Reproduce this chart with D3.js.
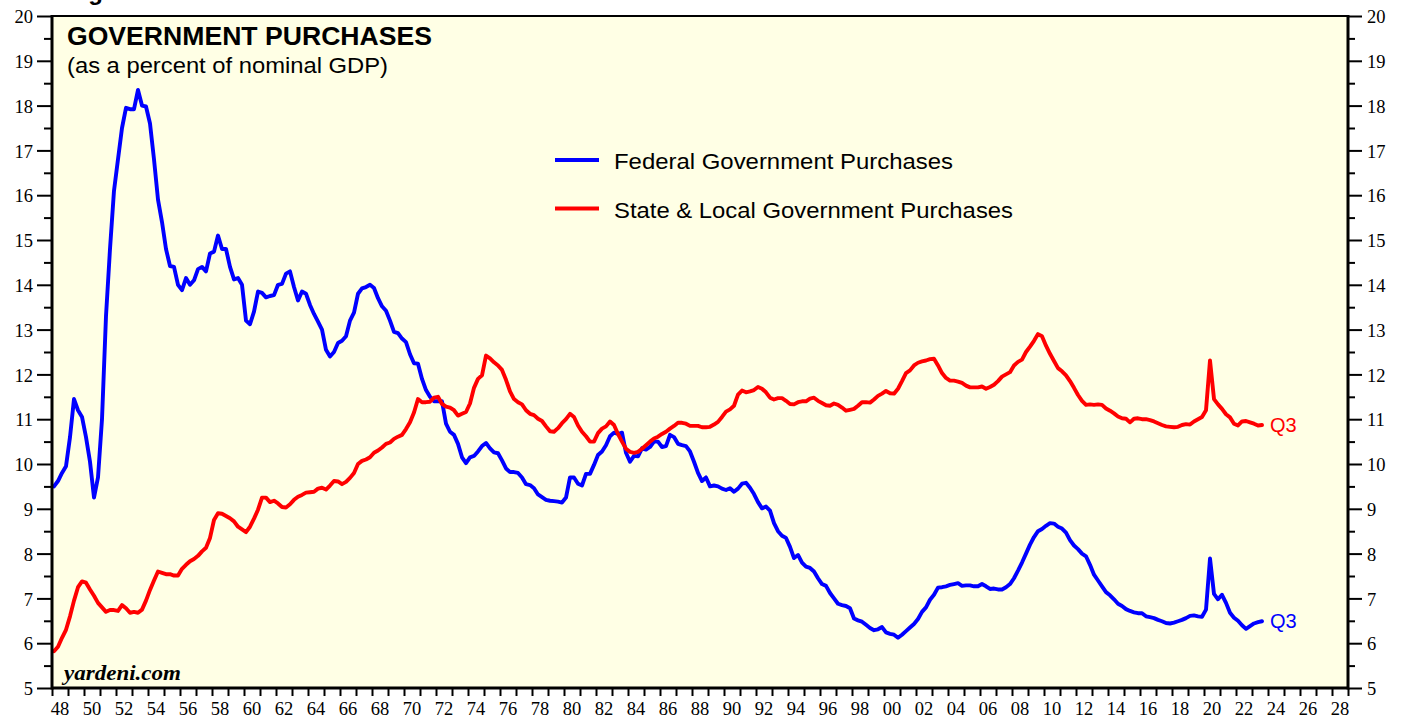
<!DOCTYPE html>
<html>
<head>
<meta charset="utf-8">
<script src="https://cdn.jsdelivr.net/npm/d3@7"></script>
<style>
  body { margin:0; background:#ffffff; }
  svg { display:block; }
</style>
</head>
<body>
<svg></svg>
<script>

//quarterly values, first point is 1948 Q1, last is 2023 Q3
var firstYear = 1948;

var fedValues = [
  9.50, 9.62, 9.80, 9.95,      //48
  10.60, 11.45, 11.20, 11.05,  //49
  10.60, 10.05, 9.25, 9.70,    //50
  11.00, 13.30, 14.80, 16.10,  //51
  16.80, 17.50, 17.95, 17.92,  //52
  17.92, 18.35, 18.00, 17.98,  //53
  17.60, 16.80, 15.90, 15.40,  //54
  14.80, 14.42, 14.40, 14.00,  //55
  13.88, 14.15, 14.00, 14.10,  //56
  14.35, 14.40, 14.30, 14.70,  //57
  14.74, 15.10, 14.80, 14.80,  //58
  14.40, 14.12, 14.15, 14.00,  //59
  13.20, 13.12, 13.40, 13.85,  //60
  13.82, 13.72, 13.75, 13.77,  //61
  14.00, 14.02, 14.25, 14.30,  //62
  13.95, 13.65, 13.85, 13.80,  //63
  13.55, 13.35, 13.18, 13.00,  //64
  12.55, 12.40, 12.50, 12.70,  //65
  12.75, 12.85, 13.20, 13.38,  //66
  13.80, 13.92, 13.95, 14.00,  //67
  13.93, 13.70, 13.52, 13.42,  //68
  13.20, 12.95, 12.92, 12.80,  //69
  12.72, 12.45, 12.25, 12.24,  //70
  11.90, 11.65, 11.50, 11.40,  //71
  11.40, 11.40, 10.90, 10.72,  //72
  10.65, 10.45, 10.15, 10.02,  //73
  10.15, 10.18, 10.28, 10.40,  //74
  10.47, 10.35, 10.26, 10.24,  //75
  10.08, 9.90, 9.82, 9.82,     //76
  9.80, 9.70, 9.55, 9.53,      //77
  9.46, 9.32, 9.26, 9.20,      //78
  9.18, 9.17, 9.16, 9.14,      //79
  9.25, 9.70, 9.70, 9.56,      //80
  9.52, 9.78, 9.78, 9.98,      //81
  10.20, 10.28, 10.42, 10.62,  //82
  10.70, 10.67, 10.70, 10.25,  //83
  10.05, 10.18, 10.17, 10.35,  //84
  10.32, 10.38, 10.50, 10.50,  //85
  10.38, 10.40, 10.65, 10.60,  //86
  10.45, 10.42, 10.40, 10.28,  //87
  10.05, 9.80, 9.62, 9.70,     //88
  9.50, 9.52, 9.50, 9.45,      //89
  9.42, 9.46, 9.38, 9.45,      //90
  9.56, 9.58, 9.47, 9.33,      //91
  9.15, 9.01, 9.05, 8.96,      //92
  8.68, 8.50, 8.40, 8.35,      //93
  8.15, 7.90, 7.97, 7.80,      //94
  7.71, 7.68, 7.60, 7.45,      //95
  7.32, 7.28, 7.12, 7.00,      //96
  6.88, 6.85, 6.83, 6.78,      //97
  6.55, 6.51, 6.48, 6.41,      //98
  6.34, 6.29, 6.31, 6.36,      //99
  6.24, 6.21, 6.19, 6.12,      //00
  6.19, 6.27, 6.35, 6.43,      //01
  6.54, 6.70, 6.80, 6.97,      //02
  7.08, 7.24, 7.25, 7.27,      //03
  7.30, 7.32, 7.34, 7.28,      //04
  7.29, 7.29, 7.27, 7.27,      //05
  7.32, 7.27, 7.21, 7.22,      //06
  7.20, 7.20, 7.25, 7.32,      //07
  7.45, 7.62, 7.80, 8.00,      //08
  8.20, 8.37, 8.50, 8.55,      //09
  8.62, 8.68, 8.67, 8.60,      //10
  8.56, 8.47, 8.30, 8.18,      //11
  8.10, 8.00, 7.94, 7.75,      //12
  7.53, 7.40, 7.27, 7.14,      //13
  7.07, 6.98, 6.88, 6.83,      //14
  6.76, 6.72, 6.69, 6.67,      //15
  6.67, 6.60, 6.58, 6.56,      //16
  6.52, 6.49, 6.45, 6.44,      //17
  6.46, 6.49, 6.52, 6.56,      //18
  6.61, 6.62, 6.60, 6.59,      //19
  6.75, 7.89, 7.10, 6.98,      //20
  7.08, 6.90, 6.68, 6.57,      //21
  6.50, 6.40, 6.32, 6.38,      //22
  6.44, 6.47, 6.49             //23
];

var slgValues = [
  5.82, 5.92, 6.12, 6.30,      //48
  6.60, 6.95, 7.25, 7.38,      //49
  7.35, 7.20, 7.06, 6.90,      //50
  6.80, 6.70, 6.74, 6.74,      //51
  6.72, 6.85, 6.78, 6.68,      //52
  6.70, 6.68, 6.75, 6.95,      //53
  7.19, 7.40, 7.60, 7.57,      //54
  7.54, 7.54, 7.51, 7.51,      //55
  7.66, 7.75, 7.83, 7.88,      //56
  7.95, 8.05, 8.13, 8.35,      //57
  8.75, 8.90, 8.89, 8.84,      //58
  8.79, 8.72, 8.60, 8.54,      //59
  8.48, 8.60, 8.78, 8.98,      //60
  9.25, 9.25, 9.15, 9.18,      //61
  9.12, 9.04, 9.03, 9.10,      //62
  9.20, 9.27, 9.31, 9.36,      //63
  9.37, 9.38, 9.45, 9.47,      //64
  9.43, 9.52, 9.62, 9.61,      //65
  9.55, 9.60, 9.69, 9.80,      //66
  10.00, 10.07, 10.10, 10.15,  //67
  10.25, 10.30, 10.37, 10.45,  //68
  10.48, 10.56, 10.61, 10.65,  //69
  10.78, 10.93, 11.15, 11.45,  //70
  11.38, 11.38, 11.39, 11.48,  //71
  11.50, 11.34, 11.28, 11.26,  //72
  11.20, 11.08, 11.12, 11.16,  //73
  11.35, 11.70, 11.90, 11.98,  //74
  12.42, 12.36, 12.27, 12.20,  //75
  12.10, 11.88, 11.62, 11.45,  //76
  11.38, 11.33, 11.20, 11.12,  //77
  11.09, 11.01, 10.96, 10.84,  //78
  10.73, 10.72, 10.80, 10.91,  //79
  11.00, 11.12, 11.05, 10.86,  //80
  10.72, 10.62, 10.50, 10.50,  //81
  10.69, 10.79, 10.84, 10.95,  //82
  10.87, 10.67, 10.50, 10.34,  //83
  10.27, 10.25, 10.27, 10.34,  //84
  10.42, 10.50, 10.57, 10.61,  //85
  10.67, 10.72, 10.79, 10.85,  //86
  10.92, 10.92, 10.90, 10.85,  //87
  10.85, 10.85, 10.82, 10.82,  //88
  10.83, 10.88, 10.94, 11.05,  //89
  11.17, 11.22, 11.30, 11.55,  //90
  11.64, 11.60, 11.62, 11.65,  //91
  11.72, 11.68, 11.60, 11.48,  //92
  11.44, 11.47, 11.47, 11.41,  //93
  11.34, 11.33, 11.38, 11.40,  //94
  11.40, 11.46, 11.48, 11.41,  //95
  11.36, 11.31, 11.30, 11.35,  //96
  11.32, 11.26, 11.19, 11.21,  //97
  11.23, 11.30, 11.38, 11.38,  //98
  11.37, 11.44, 11.52, 11.57,  //99
  11.63, 11.58, 11.57, 11.68,  //00
  11.85, 12.03, 12.09, 12.20,  //01
  12.26, 12.29, 12.31, 12.34,  //02
  12.35, 12.20, 12.03, 11.92,  //03
  11.86, 11.86, 11.84, 11.81,  //04
  11.75, 11.71, 11.71, 11.71,  //05
  11.73, 11.68, 11.72, 11.77,  //06
  11.85, 11.95, 12.00, 12.05,  //07
  12.20, 12.28, 12.33, 12.50,  //08
  12.62, 12.75, 12.90, 12.85,  //09
  12.64, 12.46, 12.30, 12.14,  //10
  12.07, 11.98, 11.85, 11.70,  //11
  11.54, 11.41, 11.32, 11.33,  //12
  11.32, 11.33, 11.32, 11.24,  //13
  11.19, 11.13, 11.06, 11.02,  //14
  11.01, 10.93, 11.01, 11.02,  //15
  11.00, 11.00, 10.98, 10.95,  //16
  10.91, 10.87, 10.84, 10.83,  //17
  10.82, 10.83, 10.87, 10.89,  //18
  10.88, 10.95, 11.00, 11.05,  //19
  11.20, 12.31, 11.45, 11.33,  //20
  11.23, 11.11, 11.04, 10.90,  //21
  10.86, 10.95, 10.96, 10.93,  //22
  10.90, 10.86, 10.87          //23
];

var seriesNames = ["Federal Government Purchases", "State & Local Government Purchases"];
var seriesColors = ["#0000ff", "#ff0000"];
var lastLabel = "Q3";

var yMajorTicks = [5,6,7,8,9,10,11,12,13,14,15,16,17,18,19,20];
var yMinorTicks = [5.5,6.5,7.5,8.5,9.5,10.5,11.5,12.5,13.5,14.5,15.5,16.5,17.5,18.5,19.5];
var xLabelYears = d3.range(1948, 2029, 2);
var xLabels = xLabelYears.map(function(y){ return String(y).slice(2); });

var caption = "Figure 8.";
var title = "GOVERNMENT PURCHASES";
var subtitle = "(as a percent of nominal GDP)";

var screen = { width:1407, height:719 };

var svg = d3.select("svg")
            .attr("width", screen.width)
            .attr("height", screen.height);

var plot = { left:52, right:1348, top:16, bottom:688 };

//scales
var xScale = d3.scaleLinear()
               .domain([1948, 2029])
               .range([plot.left, plot.right]);
var yScale = d3.scaleLinear()
               .domain([5, 20])
               .range([plot.bottom, plot.top]);

var toPoints = function(values)
{
  return values.map(function(v, i){ return { t: firstYear + (i + 0.5) / 4, v: v }; });
};
var series = [toPoints(fedValues), toPoints(slgValues)];

var sans = "Liberation Sans, Arial, sans-serif";
var serif = "Liberation Serif, Times New Roman, serif";

//figure caption, only its lower edge shows at the top of the page
svg.append("text")
   .attr("x", 67).attr("y", 0)
   .attr("font-family", sans)
   .attr("font-weight", "bold")
   .attr("font-size", 24)
   .text(caption);

//plot background
svg.append("rect")
   .attr("x", plot.left).attr("y", plot.top)
   .attr("width", plot.right - plot.left)
   .attr("height", plot.bottom - plot.top)
   .attr("fill", "#ffffe5");

svg.append("clipPath").attr("id", "clip")
   .append("rect")
   .attr("x", plot.left).attr("y", plot.top)
   .attr("width", plot.right - plot.left)
   .attr("height", plot.bottom - plot.top);

//lines
var line = d3.line()
             .x(function(d){ return xScale(d.t); })
             .y(function(d){ return yScale(d.v); });

svg.append("g")
   .attr("clip-path", "url(#clip)")
   .selectAll("path")
   .data(series)
   .enter()
   .append("path")
   .attr("d", line)
   .attr("fill", "none")
   .attr("stroke", function(d,i){ return seriesColors[i]; })
   .attr("stroke-width", 3.9)
   .attr("stroke-linejoin", "round")
   .attr("stroke-linecap", "round");

//Q3 end labels
svg.selectAll("text.endLabel")
   .data(series)
   .enter()
   .append("text")
   .classed("endLabel", true)
   .attr("x", function(d){ return xScale(d[d.length-1].t) + 8; })
   .attr("y", function(d){ return yScale(d[d.length-1].v) + 7; })
   .attr("fill", function(d,i){ return seriesColors[i]; })
   .attr("font-family", sans)
   .attr("font-size", 20)
   .text(lastLabel);

//titles
svg.append("text")
   .attr("x", 67).attr("y", 45)
   .attr("font-family", sans)
   .attr("font-weight", "bold")
   .attr("font-size", 25)
   .attr("textLength", 365)
   .attr("lengthAdjust", "spacingAndGlyphs")
   .text(title);

svg.append("text")
   .attr("x", 67).attr("y", 73)
   .attr("font-family", sans)
   .attr("font-size", 21.5)
   .attr("textLength", 321)
   .attr("lengthAdjust", "spacingAndGlyphs")
   .text(subtitle);

//legend
var legendWidths = [339, 399];
var legendLines = svg.selectAll("g.legendLine")
                     .data(seriesNames)
                     .enter()
                     .append("g")
                     .classed("legendLine", true)
                     .attr("transform", function(d,i){ return "translate(555," + (160 + i*48.5) + ")"; });

legendLines.append("line")
           .attr("x1", 0).attr("x2", 44)
           .attr("y1", 0).attr("y2", 0)
           .attr("stroke", function(d,i){ return seriesColors[i]; })
           .attr("stroke-width", 3.9);

legendLines.append("text")
           .attr("x", 59).attr("y", 9)
           .attr("font-family", sans)
           .attr("font-size", 21.5)
           .attr("textLength", function(d,i){ return legendWidths[i]; })
           .attr("lengthAdjust", "spacingAndGlyphs")
           .text(function(d){ return d; });

//watermark
svg.append("text")
   .attr("x", 64).attr("y", 680)
   .attr("font-family", serif)
   .attr("font-weight", "bold")
   .attr("font-style", "italic")
   .attr("font-size", 22)
   .attr("textLength", 117)
   .attr("lengthAdjust", "spacingAndGlyphs")
   .text("yardeni.com");

//axes
var styleAxis = function(g)
{
  g.select(".domain").remove();
  g.selectAll(".tick line").attr("stroke", "#000").attr("stroke-width", 2);
  g.selectAll(".tick text").attr("font-family", serif).attr("font-size", 18.5).attr("fill", "#000");
};

svg.append("g").classed("yAxisLeft", true)
   .attr("transform", "translate(" + plot.left + ",0)")
   .call(d3.axisLeft(yScale).tickValues(yMajorTicks).tickSize(15).tickPadding(4).tickFormat(d3.format("d")))
   .call(styleAxis);
svg.append("g").classed("yMinorLeft", true)
   .attr("transform", "translate(" + plot.left + ",0)")
   .call(d3.axisLeft(yScale).tickValues(yMinorTicks).tickSize(8).tickFormat(""))
   .call(styleAxis);

svg.append("g").classed("yAxisRight", true)
   .attr("transform", "translate(" + plot.right + ",0)")
   .call(d3.axisRight(yScale).tickValues(yMajorTicks).tickSize(14).tickPadding(5).tickFormat(d3.format("d")))
   .call(styleAxis);
svg.append("g").classed("yMinorRight", true)
   .attr("transform", "translate(" + plot.right + ",0)")
   .call(d3.axisRight(yScale).tickValues(yMinorTicks).tickSize(7).tickFormat(""))
   .call(styleAxis);

svg.selectAll(".yAxisLeft .tick text, .yAxisRight .tick text").attr("dy", "0.36em");

svg.append("g").classed("xAxis", true)
   .attr("transform", "translate(0," + plot.bottom + ")")
   .call(d3.axisBottom(xScale).tickValues(d3.range(1948, 2030)).tickSize(8).tickFormat(""))
   .call(styleAxis);

svg.append("g").classed("xLabels", true)
   .selectAll("text")
   .data(xLabelYears)
   .enter()
   .append("text")
   .attr("x", function(d){ return xScale(d + 0.5); })
   .attr("y", 715)
   .attr("text-anchor", "middle")
   .attr("font-family", serif)
   .attr("font-size", 18.5)
   .text(function(d,i){ return xLabels[i]; });

//frame
svg.append("line")
   .attr("x1", plot.left).attr("x2", plot.right)
   .attr("y1", plot.top).attr("y2", plot.top)
   .attr("stroke", "#000").attr("stroke-width", 2);
svg.append("line")
   .attr("x1", plot.left).attr("x2", plot.left)
   .attr("y1", plot.top - 1).attr("y2", plot.bottom + 1.5)
   .attr("stroke", "#000").attr("stroke-width", 3);
svg.append("line")
   .attr("x1", plot.right).attr("x2", plot.right)
   .attr("y1", plot.top - 1).attr("y2", plot.bottom + 1.5)
   .attr("stroke", "#000").attr("stroke-width", 3);
svg.append("line")
   .attr("x1", plot.left).attr("x2", plot.right)
   .attr("y1", plot.bottom).attr("y2", plot.bottom)
   .attr("stroke", "#000").attr("stroke-width", 3);

</script>
</body>
</html>
